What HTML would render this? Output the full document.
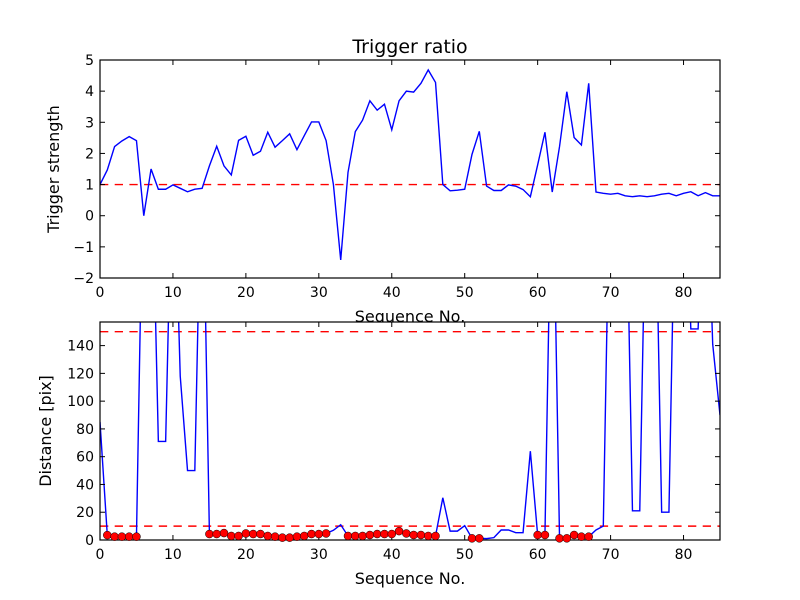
<!DOCTYPE html>
<html><head><meta charset="utf-8"><style>
body{margin:0;background:#fff}
svg{display:block;font-family:"DejaVu Sans","Liberation Sans",sans-serif}
</style></head><body>
<svg id="chart" width="800" height="600" viewBox="0 0 800 600" xmlns="http://www.w3.org/2000/svg">
<rect width="800" height="600" fill="#fff"/>
</svg>
<script>
const seq = Array.from({length:86},(_,i)=>i);
const triggerStrength = [1.0,1.47,2.22,2.4,2.54,2.41,0.0,1.5,0.85,0.85,0.99,0.88,0.77,0.85,0.88,1.6,2.23,1.6,1.31,2.42,2.55,1.94,2.07,2.68,2.2,2.41,2.63,2.12,2.57,3.01,3.01,2.41,1.0,-1.42,1.39,2.7,3.07,3.69,3.39,3.58,2.76,3.69,4.0,3.97,4.25,4.68,4.28,1.0,0.8,0.82,0.85,1.97,2.71,0.95,0.81,0.81,0.99,0.95,0.84,0.61,1.63,2.68,0.76,2.22,3.98,2.51,2.27,4.25,0.76,0.72,0.69,0.72,0.64,0.61,0.64,0.61,0.64,0.69,0.72,0.64,0.72,0.77,0.64,0.74,0.64,0.64];
const distance = [85,3.5,2.4,2.4,2.4,2.4,300,300,71,71,300,118,50,50,300,4.3,4.3,5.0,2.9,2.9,4.7,4.3,4.3,2.9,2.4,1.7,1.7,2.4,2.9,4.3,4.3,4.7,7,11,2.9,2.9,2.9,3.6,4.3,4.3,4.3,6.4,4.7,3.6,3.6,2.9,2.9,30.4,6.4,6.4,10.3,1.2,1.2,1.0,1.7,7.2,7.2,5.3,5.3,64,3.6,3.6,300,1.2,1.2,3.6,2.4,2.4,7.2,10,300,300,300,21,21,300,300,20,20,300,300,152,152,300,141,90];
const dotIdx = [1,2,3,4,5,15,16,17,18,19,20,21,22,23,24,25,26,27,28,29,30,31,34,35,36,37,38,39,40,41,42,43,44,45,46,51,52,60,61,63,64,65,66,67];
const xTicks = [0,10,20,30,40,50,60,70,80];
const yTicksTop = [-2,-1,0,1,2,3,4,5];
const yTicksBot = [0,20,40,60,80,100,120,140];
const thrTop = [1];
const thrBot = [10,150];

const NS="http://www.w3.org/2000/svg";
const svg=document.getElementById('chart');
function mk(tag,attrs,parent){const e=document.createElementNS(NS,tag);for(const k in attrs)e.setAttribute(k,attrs[k]);(parent||svg).appendChild(e);return e;}
const L=100,R=720;
const xs=v=>L+(v-0)/(85-0)*(R-L);
const T1=60,B1=278, yT=v=>T1+(5-v)/(5-(-2))*(B1-T1);
const T2=322,B2=540, yB=v=>B2-(v-0)/(157-0)*(B2-T2);

let t=mk('text',{x:410,y:53,'text-anchor':'middle','font-size':19,fill:'#000'});t.textContent='Trigger ratio';



function axes(T,B,yf,yticks,thr,vals,name,ylabel,ylx){
  const g=mk('g',{});
  
  
  mk('rect',{x:L,y:T,width:R-L,height:B-T,fill:'#fff'},g);
  const cid='clip-'+name;
  const cp=mk('clipPath',{id:cid},g);mk('rect',{x:L,y:T,width:R-L,height:B-T},cp);
  const pg=mk('g',{'clip-path':'url(#'+cid+')'},g);
  thr.forEach(v=>{const l=mk('line',{x1:L,x2:R,y1:yf(v),y2:yf(v),stroke:'#ff0000','stroke-width':1.4,'stroke-dasharray':'8.3,6.4'},pg);
    
    });
  const p=mk('polyline',{points:vals.map((v,i)=>xs(seq[i])+','+yf(v)).join(' '),fill:'none',stroke:'#0000ff','stroke-width':1.4},pg);
  
  
  mk('rect',{x:L,y:T,width:R-L,height:B-T,fill:'none',stroke:'#000','stroke-width':1.2},g);
  xTicks.forEach(v=>{const x=xs(v);
    mk('line',{x1:x,x2:x,y1:B,y2:B-5,stroke:'#000'},g);mk('line',{x1:x,x2:x,y1:T,y2:T+5,stroke:'#000'},g);
    const tx=mk('text',{x:x,y:B+19,'text-anchor':'middle','font-size':14},g);tx.textContent=v;
    
    });
  yticks.forEach(v=>{const y=yf(v);
    mk('line',{x1:L,x2:L+5,y1:y,y2:y,stroke:'#000'},g);mk('line',{x1:R,x2:R-5,y1:y,y2:y,stroke:'#000'},g);
    const ty=mk('text',{x:L-6,y:y+5,'text-anchor':'end','font-size':14},g);ty.textContent=(v<0?'\u2212'+(-v):v);
    
    });
  const yl=mk('text',{x:ylx,y:(T+B)/2,'text-anchor':'middle','font-size':16,transform:'rotate(-90 '+ylx+' '+(T+B)/2+')'},g);
  yl.textContent=ylabel;
  
  
  return {g,pg};
}
const a1=axes(T1,B1,yT,yTicksTop,thrTop,triggerStrength,'trigger-plot','Trigger strength',59);
let xl1=mk('text',{x:410,y:322,'text-anchor':'middle','font-size':16});xl1.textContent='Sequence No.';


const a2=axes(T2,B2,yB,yTicksBot,thrBot,distance,'distance-plot','Distance [pix]',51);
dotIdx.forEach(i=>{const c=mk('circle',{cx:xs(seq[i]),cy:yB(distance[i]),r:4,fill:'#ff0000',stroke:'#000','stroke-width':0.5},a2.g);
  
  });
let xl2=mk('text',{x:410,y:584,'text-anchor':'middle','font-size':16});xl2.textContent='Sequence No.';


</script>
</body></html>
